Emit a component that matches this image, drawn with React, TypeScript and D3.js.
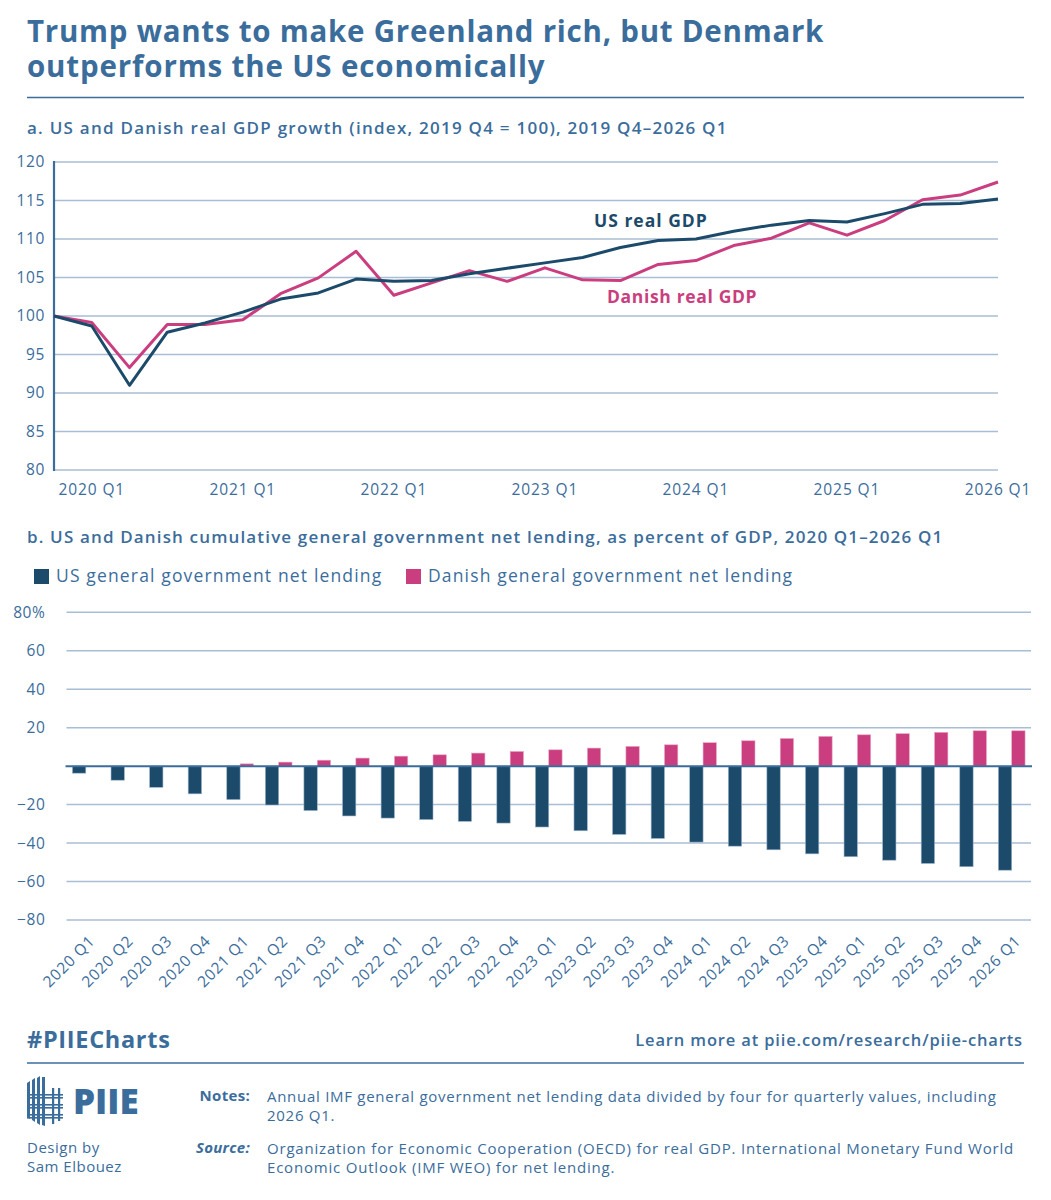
import React from "react";
import * as d3 from "d3";

// ---------- DATA ----------
const quartersA = [
  "2019 Q4", "2020 Q1", "2020 Q2", "2020 Q3", "2020 Q4",
  "2021 Q1", "2021 Q2", "2021 Q3", "2021 Q4",
  "2022 Q1", "2022 Q2", "2022 Q3", "2022 Q4",
  "2023 Q1", "2023 Q2", "2023 Q3", "2023 Q4",
  "2024 Q1", "2024 Q2", "2024 Q3", "2024 Q4",
  "2025 Q1", "2025 Q2", "2025 Q3", "2025 Q4",
  "2026 Q1",
];
const usGDP = [100, 98.7, 91.0, 97.9, 99.1, 100.5, 102.2, 103.0, 104.8, 104.5, 104.6, 105.5, 106.2, 106.9, 107.6, 108.9, 109.8, 110.0, 111.0, 111.8, 112.4, 112.2, 113.3, 114.5, 114.6, 115.2];
const dkGDP = [100, 99.15, 93.3, 98.9, 98.9, 99.5, 102.9, 104.95, 108.4, 102.7, 104.3, 105.9, 104.5, 106.25, 104.7, 104.6, 106.7, 107.2, 109.15, 110.1, 112.1, 110.5, 112.4, 115.1, 115.7, 117.4];
const yTicksA = [80, 85, 90, 95, 100, 105, 110, 115, 120];
const xTickLabelsA = ["2020 Q1", "2021 Q1", "2022 Q1", "2023 Q1", "2024 Q1", "2025 Q1", "2026 Q1"];

const quartersB = [
  "2020 Q1", "2020 Q2", "2020 Q3", "2020 Q4",
  "2021 Q1", "2021 Q2", "2021 Q3", "2021 Q4",
  "2022 Q1", "2022 Q2", "2022 Q3", "2022 Q4",
  "2023 Q1", "2023 Q2", "2023 Q3", "2023 Q4",
  "2024 Q1", "2024 Q2", "2024 Q3", "2025 Q4",
  "2025 Q1", "2025 Q2", "2025 Q3", "2025 Q4",
  "2026 Q1",
];
const usLending = [-3.65, -7.3, -11.0, -14.4, -17.4, -20.2, -23.1, -25.9, -27.0, -27.8, -28.7, -29.6, -31.65, -33.6, -35.5, -37.6, -39.5, -41.6, -43.5, -45.6, -47.1, -48.9, -50.6, -52.3, -54.1];
const dkLending = [0, 0, 0, 0, 1.2, 2.1, 3.1, 4.2, 5.2, 5.9, 6.8, 7.65, 8.5, 9.4, 10.3, 11.1, 12.2, 13.2, 14.4, 15.5, 16.3, 16.9, 17.6, 18.4, 18.4];
const yTicksB = [80, 60, 40, 20, -20, -40, -60, -80];
const seriesB = ["US", "DK"];

// ---------- STYLE ----------
const NAVY = "#1c4a6a";
const PINK = "#ca3e80";
const BLUE = "#3b6d9c";
const GRID = "#a8bed5";
const FONT = "'Open Sans', 'DejaVu Sans', sans-serif";

export default function App() {
  // Chart a scales
  const xA = d3.scaleLinear().domain([0, quartersA.length - 1]).range([54, 998]);
  const yA = d3.scaleLinear().domain([80, 120]).range([470, 162]);
  const lineA = d3
    .line<number>()
    .x((_, i) => xA(i))
    .y((d) => yA(d));

  // Chart b scales
  const xB = d3
    .scaleBand<number>()
    .domain(quartersB.map((_, i) => i))
    .range([66.5, 1031])
    .padding(0);
  const bw = xB.bandwidth();
  const xInner = d3
    .scaleBand<string>()
    .domain(seriesB)
    .range([bw * 0.154, bw * 0.846])
    .padding(0);
  const yB = d3.scaleLinear().domain([-80, 80]).range([920, 612.3]);

  const fmtB = (v: number) => (v === 80 ? "80%" : v < 0 ? "\u2212" + Math.abs(v) : String(v));

  return (
    <svg
      width={1051}
      height={1200}
      style={{ position: "absolute", left: 0, top: 0, background: "#fff" }}
      fontFamily={FONT}
    >
      <rect x={0} y={0} width={1051} height={1200} fill="#fff" />
      {/* Title */}
      <text x={27} y={42} fill={BLUE} fontSize={29.5} fontWeight={700} letterSpacing={0.75}>
        Trump wants to make Greenland rich, but Denmark
      </text>
      <text x={27} y={77} fill={BLUE} fontSize={29.5} fontWeight={700} letterSpacing={0.85}>
        outperforms the US economically
      </text>
      <line x1={27} x2={1024} y1={97.5} y2={97.5} stroke={BLUE} strokeWidth={1.5} />

      {/* Chart a subtitle */}
      <text x={27} y={134} fill={BLUE} fontSize={17} fontWeight={600} letterSpacing={1.25}>
        a. US and Danish real GDP growth (index, 2019 Q4 = 100), 2019 Q4–2026 Q1
      </text>

      {/* Chart a gridlines */}
      {yTicksA.map((t) => (
        <line key={"ga" + t} x1={54} x2={998} y1={yA(t)} y2={yA(t)} stroke={GRID} strokeWidth={1.5} />
      ))}
      {yTicksA.map((t) => (
        <text key={"ta" + t} x={45} y={yA(t)} dy="0.35em" textAnchor="end" fill={BLUE} fontSize={15.5} letterSpacing={0.6}>
          {t}
        </text>
      ))}
      <line x1={54} x2={54} y1={yA(120) - 1} y2={yA(80) + 1} stroke={BLUE} strokeWidth={2.2} />
      {xTickLabelsA.map((lab) => {
        const i = quartersA.indexOf(lab);
        return (
          <text key={"xa" + lab} x={xA(i)} y={495} textAnchor="middle" fill={BLUE} fontSize={15.5} letterSpacing={0.9}>
            {lab}
          </text>
        );
      })}
      <path d={lineA(dkGDP) || ""} fill="none" stroke={PINK} strokeWidth={3} strokeLinejoin="round" />
      <path d={lineA(usGDP) || ""} fill="none" stroke={NAVY} strokeWidth={3} strokeLinejoin="round" />
      <text x={594} y={227} fill={NAVY} fontSize={17.5} fontWeight={700} letterSpacing={1}>
        US real GDP
      </text>
      <text x={607} y={303} fill={PINK} fontSize={17.5} fontWeight={700} letterSpacing={0.65}>
        Danish real GDP
      </text>

      {/* Chart b subtitle + legend */}
      <text x={27} y={543} fill={BLUE} fontSize={17} fontWeight={600} letterSpacing={1.15}>
        b. US and Danish cumulative general government net lending, as percent of GDP, 2020 Q1–2026 Q1
      </text>
      <rect x={34} y={569} width={15} height={15} fill={NAVY} />
      <text x={56} y={582} fill={BLUE} fontSize={17.5} letterSpacing={1.15}>
        US general government net lending
      </text>
      <rect x={406} y={569} width={15} height={15} fill={PINK} />
      <text x={428} y={582} fill={BLUE} fontSize={17.5} letterSpacing={1.15}>
        Danish general government net lending
      </text>

      {/* Chart b grid */}
      {yTicksB.map((t) => (
        <line key={"gb" + t} x1={66.5} x2={1031} y1={yB(t)} y2={yB(t)} stroke={GRID} strokeWidth={1.5} />
      ))}
      {yTicksB.map((t) => (
        <text key={"tb" + t} x={45.5} y={yB(t)} dy="0.35em" textAnchor="end" fill={BLUE} fontSize={15.5} letterSpacing={0.6}>
          {fmtB(t)}
        </text>
      ))}
      {/* Bars */}
      {quartersB.map((_, i) => {
        const x0 = xB(i) as number;
        const us = usLending[i];
        const dk = dkLending[i];
        return (
          <g key={"b" + i}>
            <rect
              x={x0 + (xInner("US") as number)}
              y={yB(Math.max(0, us))}
              width={xInner.bandwidth()}
              height={Math.abs(yB(us) - yB(0))}
              fill={NAVY}
              stroke="#9db4cc"
              strokeWidth={0.6}
            />
            {dk !== 0 && (
              <rect
                x={x0 + (xInner("DK") as number)}
                y={yB(Math.max(0, dk))}
                width={xInner.bandwidth()}
                height={Math.abs(yB(dk) - yB(0))}
                fill={PINK}
                stroke="#e9a9c6"
                strokeWidth={0.6}
              />
            )}
          </g>
        );
      })}
      <line x1={65.5} x2={1032} y1={yB(0)} y2={yB(0)} stroke={BLUE} strokeWidth={2} />
      {quartersB.map((lab, i) => {
        const cx = (xB(i) as number) + bw / 2 + 10;
        const cy = 942;
        return (
          <text
            key={"xb" + i}
            x={cx}
            y={cy}
            textAnchor="end"
            fill={BLUE}
            fontSize={15.5}
            letterSpacing={0.7}
            transform={`rotate(-45, ${cx}, ${cy})`}
          >
            {lab}
          </text>
        );
      })}

      {/* Footer */}
      <text x={27} y={1048} fill={BLUE} fontSize={23.5} fontWeight={700} letterSpacing={0.7}>
        #PIIECharts
      </text>
      <text x={1023} y={1046} textAnchor="end" fill={BLUE} fontSize={16.5} fontWeight={600} letterSpacing={0.85}>
        Learn more at piie.com/research/piie-charts
      </text>
      <line x1={27} x2={1024} y1={1063} y2={1063} stroke={BLUE} strokeWidth={1.5} />

      {/* PIIE logo */}
      <g fill={BLUE}>
        <polygon points="27,1083 30,1081 30,1119 27,1117" />
        <polygon points="32,1080 35,1078 35,1122 32,1120" />
        <polygon points="37,1078 40,1076 40,1125 37,1123" />
        <polygon points="42,1077 45,1077 45,1126 42,1125" />
        <rect x={52} y={1088} width={2.2} height={36} />
        <rect x={58} y={1088} width={2.2} height={33} />
        <rect x={27} y={1094} width={36} height={1.6} />
        <rect x={27} y={1097} width={36} height={1.6} />
        <rect x={27} y={1104} width={36} height={1.6} />
        <rect x={27} y={1107} width={36} height={1.6} />
        <rect x={27} y={1114} width={36} height={1.6} />
        <rect x={27} y={1117} width={36} height={1.6} />
      </g>
      <text x={73} y={1114} fill={BLUE} fontSize={35} fontWeight={800}>
        PIIE
      </text>
      <text x={27} y={1153} fill={BLUE} fontSize={15} letterSpacing={0.5}>
        Design by
      </text>
      <text x={27} y={1172} fill={BLUE} fontSize={15} letterSpacing={0.5}>
        Sam Elbouez
      </text>

      <text x={250} y={1101} textAnchor="end" fill={BLUE} fontSize={15} fontWeight={700} letterSpacing={0.3}>
        Notes:
      </text>
      <text x={267} y={1102} fill={BLUE} fontSize={15} letterSpacing={0.72}>
        Annual IMF general government net lending data divided by four for quarterly values, including
      </text>
      <text x={267} y={1121} fill={BLUE} fontSize={15} letterSpacing={0.72}>
        2026 Q1.
      </text>
      <text x={250} y={1153} textAnchor="end" fill={BLUE} fontSize={15} fontWeight={700} fontStyle="italic" letterSpacing={0.3}>
        Source:
      </text>
      <text x={267} y={1154} fill={BLUE} fontSize={15} letterSpacing={0.8}>
        Organization for Economic Cooperation (OECD) for real GDP. International Monetary Fund World
      </text>
      <text x={267} y={1173} fill={BLUE} fontSize={15} letterSpacing={0.8}>
        Economic Outlook (IMF WEO) for net lending.
      </text>
    </svg>
  );
}
